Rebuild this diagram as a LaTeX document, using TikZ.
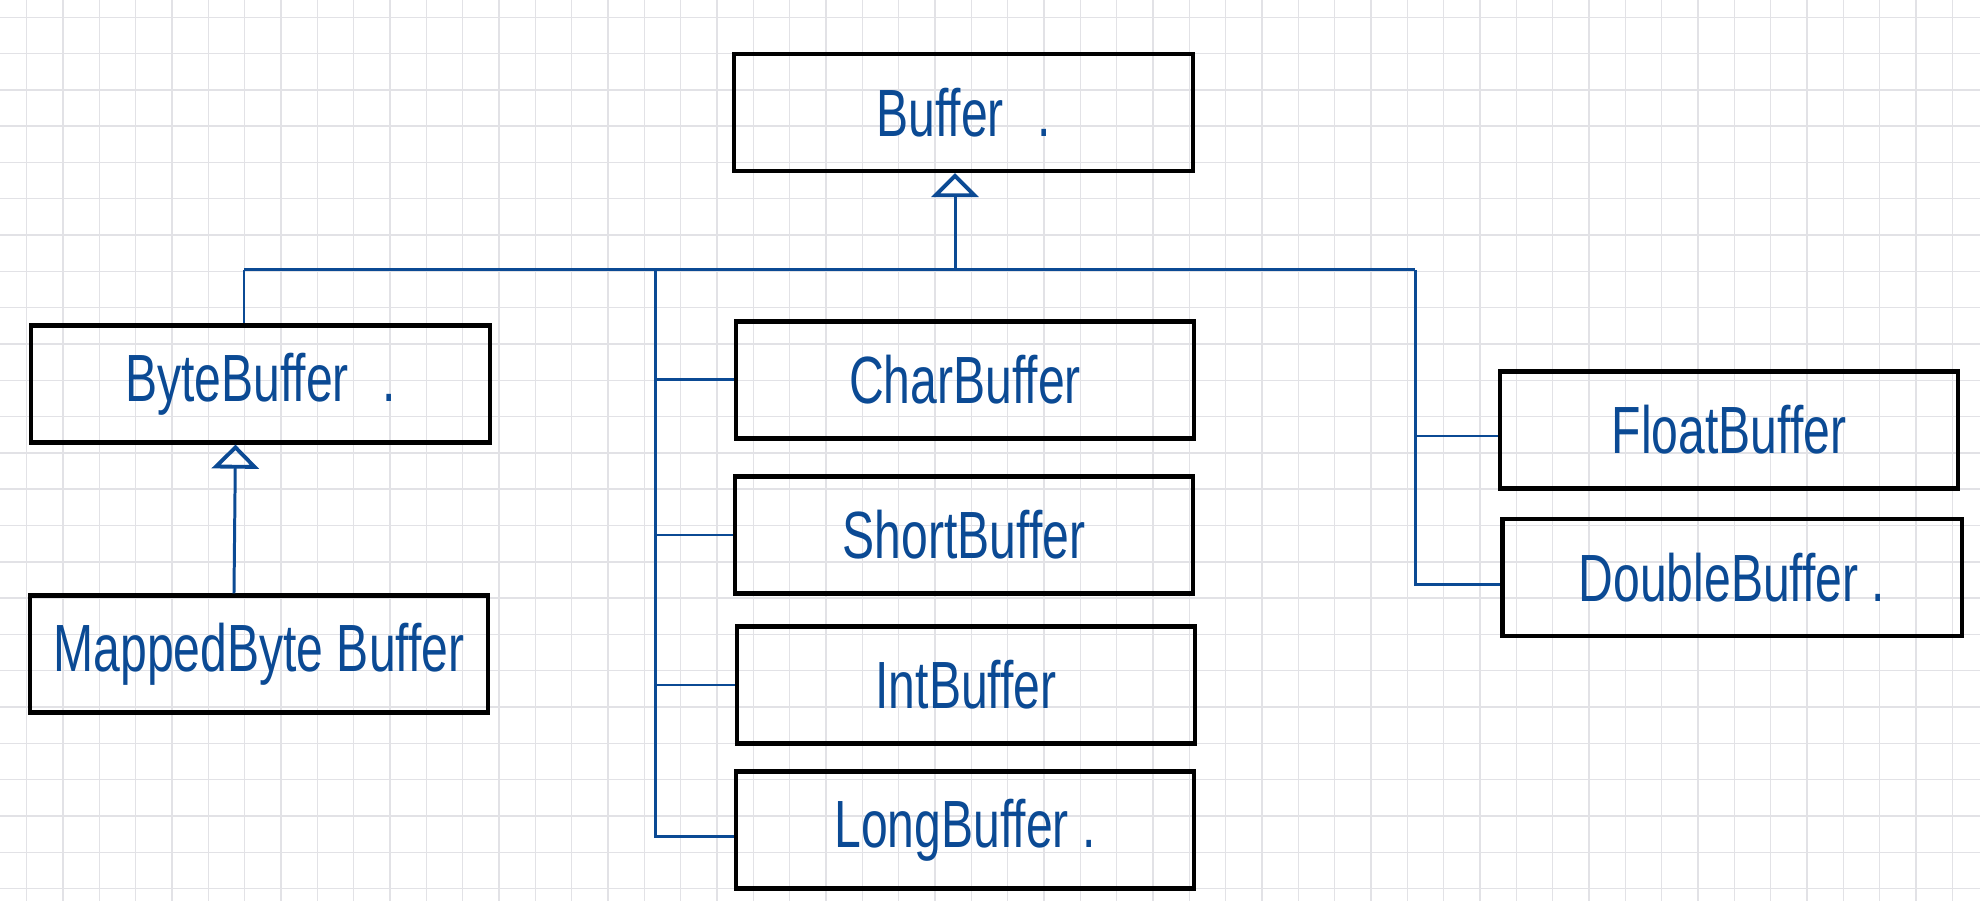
\documentclass[tikz,border=0pt]{standalone}
\usepackage{fontspec}
\setmainfont[FakeStretch=0.72]{Liberation Sans}
\usepackage{xcolor}
\usepackage{tikz}
\usetikzlibrary{arrows.meta,positioning}
\definecolor{inkc}{HTML}{0B4A94}
\definecolor{gridc}{HTML}{E2E2E6}
\tikzset{
  ln/.style={inkc,line width=0.85pt},
  inh/.style={ln,-{Triangle[open,length=2.4mm,width=4.7mm,line width=1.1pt]}},
  cls/.style={draw=black,line width=1.2pt,minimum width=4.58cm,minimum height=1.17cm,text=inkc,font=\fontsize{19}{22}\selectfont}
}

\begin{document}
\begin{tikzpicture}[x=0.01cm,y=-0.01cm]
\useasboundingbox (0,0) rectangle (1980,901);
\foreach \i in {0,...,53}
  \draw[gridc,line width=0.4pt] ({26.7+36.33*\i},0) -- ({26.7+36.33*\i},901);
\foreach \j in {0,...,24}
  \draw[gridc,line width=0.4pt] (0,{17.3+36.3*\j}) -- (1980,{17.3+36.3*\j});

\node[cls,minimum width=4.59cm] (buffer) at (963.5,112.5) {Buffer\enspace.};
\node[cls] (byte) at (260.5,384) {ByteBuffer\enspace.};
\node[cls] (mapped) at (259,654) {MappedByte Buffer};
\node[cls] (char) at (965,380) {CharBuffer};
\node[cls] (short) at (964,535) {ShortBuffer};
\node[cls] (int) at (966,685) {IntBuffer};
\node[cls] (long) at (965,830) {LongBuffer\ .};
\node[cls] (float) at (1729,430) {FloatBuffer};
\node[cls,minimum width=4.59cm] (double) at (1732,577.5) {DoubleBuffer\ .};

\coordinate (busl) at (244,270);
\coordinate (busm) at (655.6,270);
\coordinate (busc) at (955,270);
\coordinate (busr) at (1415,270);
\draw[ln] (busl) -- (busr);
\draw[inh] (busc) -- (busc |- buffer.south);
\draw[ln] (busl) -- (busl |- byte.north);
\draw[inh] ([xshift=-0.25cm]mapped.north) -- ([xshift=-0.25cm]byte.south);
\draw[ln] (busm) |- ([yshift=-0.06cm]long.west);
\foreach \n in {char,short,int}
  \draw[ln] (\n.west) -- (\n.west -| busm);
\draw[ln] (busr) |- ([yshift=-0.07cm]double.west);
\draw[ln] ([yshift=-0.06cm]float.west) -- ([yshift=-0.06cm]float.west -| busr);
\end{tikzpicture}
\end{document}
